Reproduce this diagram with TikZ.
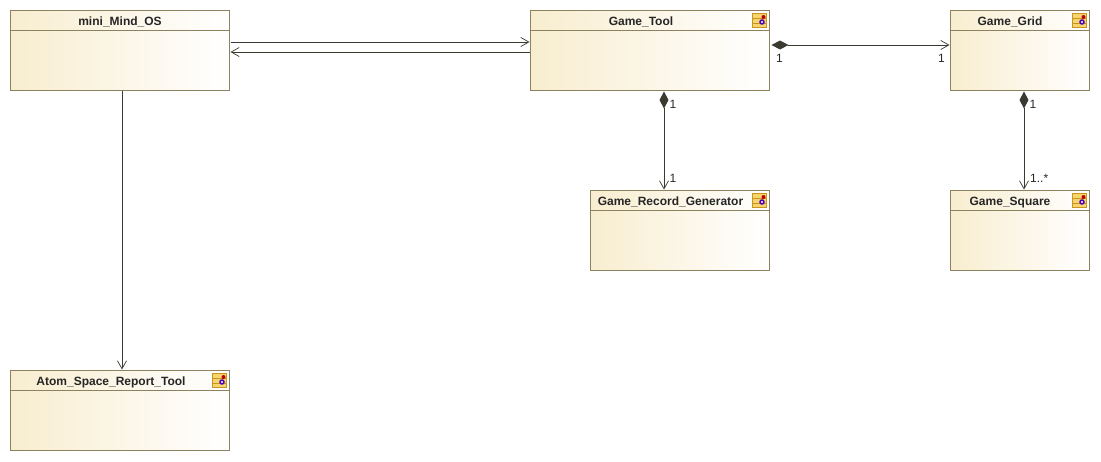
\documentclass[tikz,border=0pt]{standalone}
\usepackage{fontspec}
\setmainfont{Liberation Sans}
\usetikzlibrary{arrows.meta, positioning, shadows}

\definecolor{boxline}{HTML}{8C8260}
\definecolor{boxfill}{HTML}{F8EDCF}
\definecolor{linkline}{HTML}{3A3A30}
\definecolor{iconfill}{HTML}{F7D56E}
\definecolor{iconline}{HTML}{C9951F}

\begin{document}
\begin{tikzpicture}[x=1pt, y=-1pt,
    cls/.style={draw=boxline, line width=1pt, rectangle, left color=boxfill, right color=white, inner sep=0pt, minimum height=80pt, drop shadow={shadow xshift=1pt, shadow yshift=-1pt, opacity=0.35, fill=gray}},
    title/.style={font=\fontsize{12}{14}\selectfont\bfseries, text=black!85, inner sep=0pt, anchor=base},
    mult/.style={font=\fontsize{12}{14}\selectfont, text=black!85, inner sep=0pt},
    link/.style={draw=linkline, line width=0.7pt},
    nav/.style={link, -{Straight Barb[length=8pt, width=9pt, line width=0.7pt]}},
    comp/.style={link, {Diamond[length=17pt, width=9pt, fill=linkline, line width=0pt]}-{Straight Barb[length=8pt, width=9pt, line width=0.7pt]}}
]
\useasboundingbox (0,0) rectangle (1101,461);

% Classes
\foreach \name/\x/\y/\w in {mini/119.5/50/219, tool/649.5/50/239, grid/1019.5/50/139, record/679.5/230/179, square/1019.5/230/139, atom/119.5/410/219} {
    \node[cls, minimum width=\w pt] (\name) at (\x,\y) {};
    \draw[boxline, line width=0.7pt] ([yshift=-21pt]\name.north west) -- ([yshift=-21pt]\name.north east);
}
\node[title] (miniT) at (120,25) {mini\_Mind\_OS};
\node[title] (toolT) at (641,25) {Game\_Tool};
\node[title] (gridT) at (1010,25) {Game\_Grid};
\node[title] (recordT) at (670.5,205) {Game\_Record\_Generator};
\node[title] (squareT) at (1010,205) {Game\_Square};
\node[title] (atomT) at (111,385) {Atom\_Space\_Report\_Tool};

% Icons
\foreach \name in {tool, grid, record, square, atom} {
    \begin{scope}[shift={([xshift=-17pt, yshift=-4pt]\name.north east)}]
    \draw[iconline, fill=iconfill, line width=0.8pt] (0,0) rectangle (14,14);
    \draw[iconline, line width=0.7pt] (0,4.5) -- (14,4.5) (0,9.5) -- (14,9.5);
    \fill[red!75!black] (11,3.5) circle (2pt);
    \fill[blue!40!violet] (9.5,8.5) circle (2.8pt);
    \fill[white] (9.5,8.5) circle (1.2pt);
    \end{scope}
}

% Connectors
\draw[nav] ([xshift=1pt, yshift=8pt]mini.east) -- ([yshift=8pt]tool.west);
\draw[nav] ([yshift=-2pt]tool.west) -- ([xshift=1pt, yshift=-2pt]mini.east);
\draw[nav] ([xshift=2.5pt]mini.south) -- ([xshift=2.5pt]atom.north);
\draw[comp] ([xshift=2pt, yshift=5pt]tool.east) -- ([yshift=5pt]grid.west);
\draw[comp] ([xshift=14.5pt, yshift=-1pt]tool.south) -- ([xshift=-15.5pt]record.north);
\draw[comp] ([xshift=4.5pt, yshift=-1pt]grid.south) -- ([xshift=4.5pt]square.north);

% Multiplicities
\node[mult] (m1) at (779.5,58) {1};
\node[mult] (m2) at (941.5,58) {1};
\node[mult] (m3) at (673,104) {1};
\node[mult] (m4) at (673,178) {1};
\node[mult] (m5) at (1033,104) {1};
\node[mult, anchor=west] (m6) at (1030,178) {1..*};

\end{tikzpicture}
\end{document}
